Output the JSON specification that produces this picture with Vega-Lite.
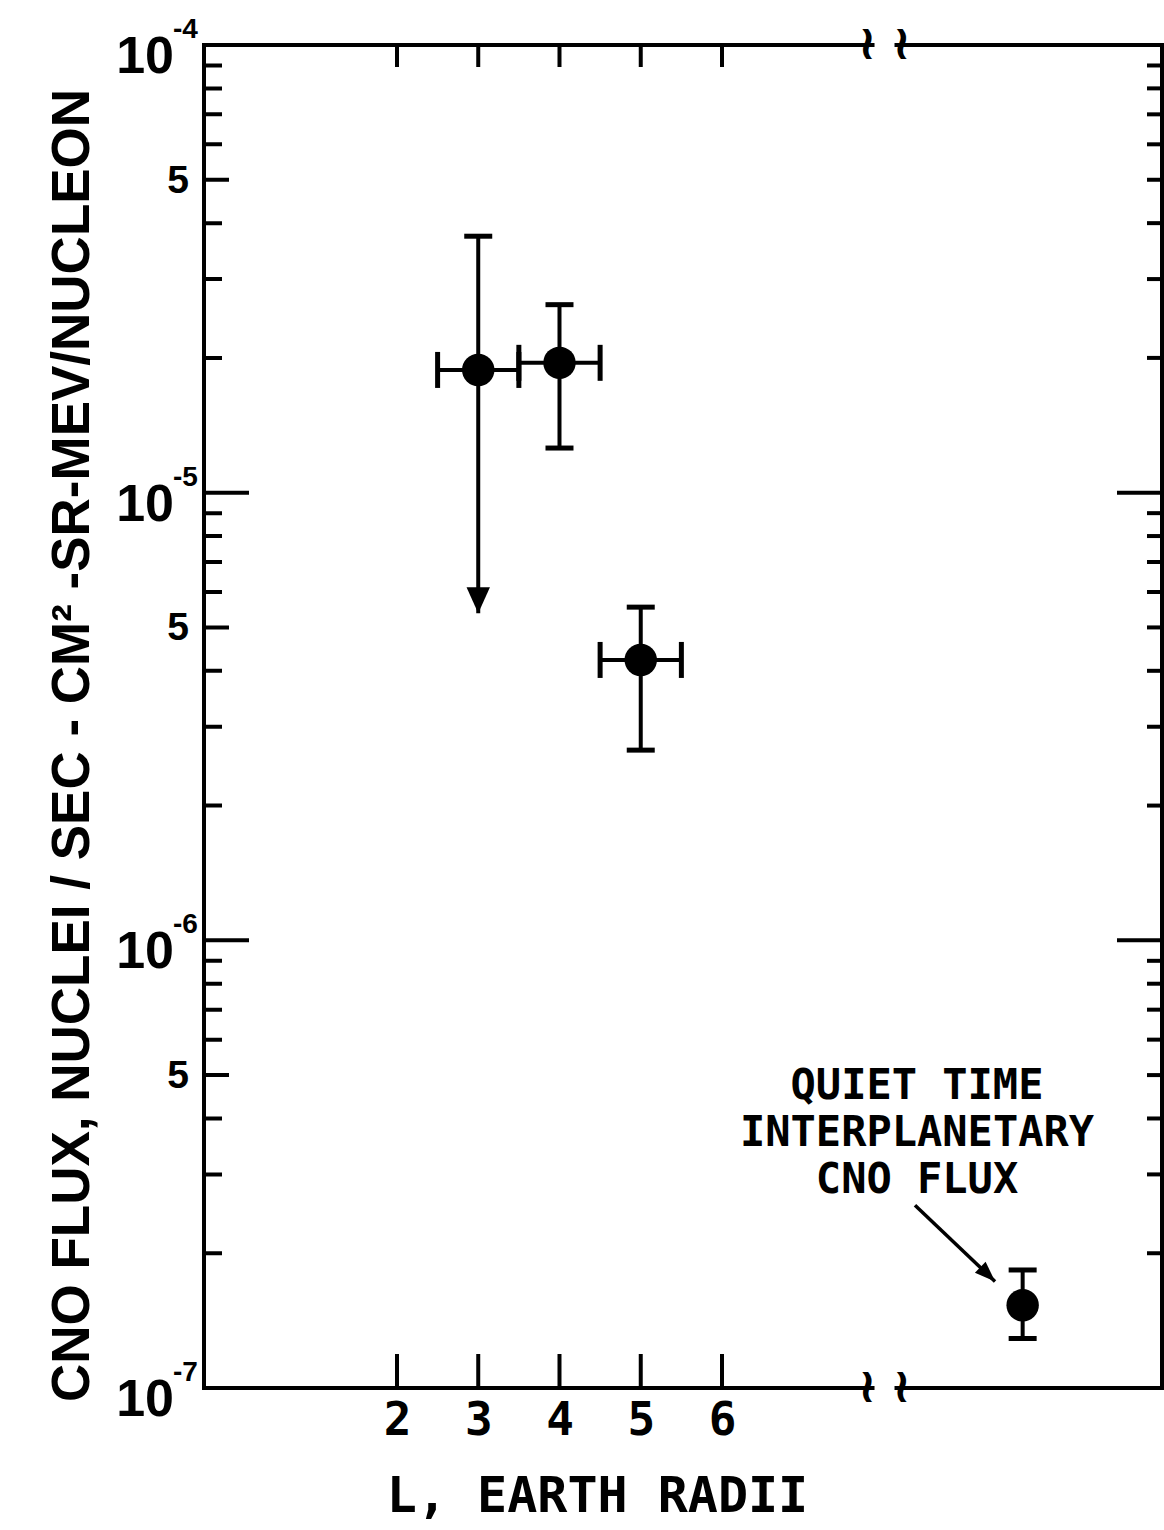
{
  "$schema": "https://vega.github.io/schema/vega-lite/v6.json",
  "width": 958,
  "height": 1343,
  "autosize": {"type": "none"},
  "padding": {"left": 204, "top": 45, "right": 2, "bottom": 142},
  "background": "white",
  "config": {
    "view": {"stroke": "black", "strokeWidth": 4},
    "font": "DejaVu Sans",
    "tick": {"opacity": 1}
  },
  "datasets": {
    "pts": [
      {"L": 3, "flux": 1.88e-5, "hi": 3.74e-5, "lo": 5.38e-6, "xlo": 2.5, "xhi": 3.5, "kind": "upper"},
      {"L": 4, "flux": 1.95e-5, "hi": 2.63e-5, "lo": 1.258e-5, "xlo": 3.5, "xhi": 4.5, "kind": "meas"},
      {"L": 5, "flux": 4.23e-6, "hi": 5.55e-6, "lo": 2.66e-6, "xlo": 4.5, "xhi": 5.5, "kind": "meas"},
      {"L": 9.7, "flux": 1.53e-7, "hi": 1.835e-7, "lo": 1.29e-7, "kind": "interp"}
    ],
    "yt": [
      {"v": 1e-5, "k": "major"}, {"v": 1e-6, "k": "major"},
      {"v": 5e-5, "k": "five"}, {"v": 5e-6, "k": "five"}, {"v": 5e-7, "k": "five"},
      {"v": 2e-5, "k": "minor"}, {"v": 3e-5, "k": "minor"}, {"v": 4e-5, "k": "minor"}, {"v": 6e-5, "k": "minor"}, {"v": 7e-5, "k": "minor"}, {"v": 8e-5, "k": "minor"}, {"v": 9e-5, "k": "minor"},
      {"v": 2e-6, "k": "minor"}, {"v": 3e-6, "k": "minor"}, {"v": 4e-6, "k": "minor"}, {"v": 6e-6, "k": "minor"}, {"v": 7e-6, "k": "minor"}, {"v": 8e-6, "k": "minor"}, {"v": 9e-6, "k": "minor"},
      {"v": 2e-7, "k": "minor"}, {"v": 3e-7, "k": "minor"}, {"v": 4e-7, "k": "minor"}, {"v": 6e-7, "k": "minor"}, {"v": 7e-7, "k": "minor"}, {"v": 8e-7, "k": "minor"}, {"v": 9e-7, "k": "minor"}
    ],
    "ylab": [
      {"v": 1e-4, "base": "10", "exp": "-4"},
      {"v": 1e-5, "base": "10", "exp": "-5"},
      {"v": 1e-6, "base": "10", "exp": "-6"},
      {"v": 1e-7, "base": "10", "exp": "-7"}
    ],
    "xt": [{"v": 2}, {"v": 3}, {"v": 4}, {"v": 5}, {"v": 6}],
    "ann": [{"x1": 8.375, "y1": 2.56e-7, "x2": 9.36, "y2": 1.73e-7, "tx": 8.4, "ty": 4.73e-7, "label": "QUIET TIME\nINTERPLANETARY\nCNO FLUX"}],
    "brk": [{"x": 8.0}]
  },
  "layer": [
    {
      "data": {"name": "pts"},
      "mark": {"type": "rule", "strokeWidth": 4, "color": "black"},
      "encoding": {
        "x": {
          "field": "L", "type": "quantitative",
          "scale": {"domain": [-0.375, 11.415], "nice": false, "zero": false},
          "axis": {
            "values": [2, 3, 4, 5, 6], "format": "d", "ticks": false, "domain": false, "grid": false,
            "labelFont": "DejaVu Sans Mono", "labelFontWeight": "bold", "labelFontSize": 46, "labelPadding": 10, "labelColor": "black",
            "title": "L, EARTH RADII", "titleFont": "DejaVu Sans Mono", "titleFontSize": 50, "titleFontWeight": "bold",
            "titleColor": "black", "titleX": 393, "titleY": 108, "titleAlign": "center", "titleBaseline": "middle"
          }
        },
        "y": {
          "field": "hi", "type": "quantitative",
          "scale": {"type": "log", "domain": [1e-7, 1e-4], "nice": false},
          "axis": {
            "values": [1e-4, 1e-5, 1e-6, 1e-7],
            "labels": false, "ticks": false, "domain": false, "grid": false,
            "title": "CNO FLUX, NUCLEI / SEC - CM² -SR-MEV/NUCLEON",
            "titleFont": "Liberation Sans", "titleFontWeight": "bold",
            "titleFontSize": 53, "titleColor": "black", "titleX": -132, "titleY": 700,
            "titleAlign": "center", "titleBaseline": "middle", "titleAngle": -90
          }
        },
        "y2": {"field": "lo"}
      }
    },
    {
      "data": {"name": "pts"},
      "transform": [{"filter": "isValid(datum.xlo)"}],
      "mark": {"type": "rule", "strokeWidth": 4, "color": "black"},
      "encoding": {
        "x": {"field": "xlo", "type": "quantitative"},
        "x2": {"field": "xhi"},
        "y": {"field": "flux", "type": "quantitative"}
      }
    },
    {
      "data": {"name": "pts"},
      "mark": {"type": "tick", "orient": "horizontal", "size": 28, "thickness": 5, "color": "black"},
      "encoding": {
        "x": {"field": "L", "type": "quantitative"},
        "y": {"field": "hi", "type": "quantitative"}
      }
    },
    {
      "data": {"name": "pts"},
      "transform": [{"filter": "datum.kind != 'upper'"}],
      "mark": {"type": "tick", "orient": "horizontal", "size": 28, "thickness": 5, "color": "black"},
      "encoding": {
        "x": {"field": "L", "type": "quantitative"},
        "y": {"field": "lo", "type": "quantitative"}
      }
    },
    {
      "data": {"name": "pts"},
      "transform": [{"filter": "isValid(datum.xlo)"}],
      "mark": {"type": "tick", "orient": "vertical", "size": 36, "thickness": 5, "color": "black"},
      "encoding": {
        "x": {"field": "xlo", "type": "quantitative"},
        "y": {"field": "flux", "type": "quantitative"}
      }
    },
    {
      "data": {"name": "pts"},
      "transform": [{"filter": "isValid(datum.xhi)"}],
      "mark": {"type": "tick", "orient": "vertical", "size": 36, "thickness": 5, "color": "black"},
      "encoding": {
        "x": {"field": "xhi", "type": "quantitative"},
        "y": {"field": "flux", "type": "quantitative"}
      }
    },
    {
      "data": {"name": "pts"},
      "mark": {"type": "point", "shape": "circle", "filled": true, "size": 1050, "color": "black", "opacity": 1},
      "encoding": {
        "x": {"field": "L", "type": "quantitative"},
        "y": {"field": "flux", "type": "quantitative"}
      }
    },
    {
      "data": {"name": "pts"},
      "transform": [{"filter": "datum.kind == 'upper'"}],
      "mark": {"type": "point", "shape": "M -0.9 -2 L 0.9 -2 L 0 0 Z", "filled": true, "size": 676, "color": "black", "opacity": 1},
      "encoding": {
        "x": {"field": "L", "type": "quantitative"},
        "y": {"field": "lo", "type": "quantitative"}
      }
    },
    {
      "data": {"name": "ann"},
      "mark": {"type": "rule", "strokeWidth": 3.5, "color": "black"},
      "encoding": {
        "x": {"field": "x1", "type": "quantitative"},
        "x2": {"field": "x2"},
        "y": {"field": "y1", "type": "quantitative"},
        "y2": {"field": "y2"}
      }
    },
    {
      "data": {"name": "ann"},
      "mark": {"type": "point", "shape": "M -0.75 -2 L 0.75 -2 L 0 0 Z", "filled": true, "size": 420, "angle": 314, "color": "black", "opacity": 1},
      "encoding": {
        "x": {"field": "x2", "type": "quantitative"},
        "y": {"field": "y2", "type": "quantitative"}
      }
    },
    {
      "data": {"name": "ann"},
      "mark": {"type": "text", "font": "DejaVu Sans Mono", "fontWeight": "bold", "fontSize": 42, "align": "center", "baseline": "middle", "lineBreak": "\n", "lineHeight": 47, "color": "black"},
      "encoding": {
        "x": {"field": "tx", "type": "quantitative"},
        "y": {"field": "ty", "type": "quantitative"},
        "text": {"field": "label"}
      }
    },
    {
      "data": {"name": "ylab"},
      "mark": {"type": "text", "font": "Liberation Sans", "fontWeight": "bold", "fontSize": 52, "align": "right", "baseline": "middle", "dx": -30, "dy": 12, "color": "black"},
      "encoding": {
        "x": {"datum": -0.375, "type": "quantitative"},
        "y": {"field": "v", "type": "quantitative"},
        "text": {"field": "base"}
      }
    },
    {
      "data": {"name": "ylab"},
      "mark": {"type": "text", "font": "Liberation Sans", "fontWeight": "bold", "fontSize": 28, "align": "left", "baseline": "middle", "dx": -31, "dy": -15, "color": "black"},
      "encoding": {
        "x": {"datum": -0.375, "type": "quantitative"},
        "y": {"field": "v", "type": "quantitative"},
        "text": {"field": "exp"}
      }
    },
    {
      "data": {"name": "yt"},
      "transform": [{"filter": "datum.k == 'five'"}],
      "mark": {"type": "text", "text": "5", "font": "Liberation Sans", "fontWeight": "bold", "fontSize": 39, "align": "right", "baseline": "middle", "dx": -15, "dy": 1, "color": "black"},
      "encoding": {
        "x": {"datum": -0.375, "type": "quantitative"},
        "y": {"field": "v", "type": "quantitative"}
      }
    },
    {
      "data": {"name": "yt"},
      "transform": [{"filter": "datum.k == 'major'"}],
      "mark": {"type": "tick", "orient": "horizontal", "size": 90, "thickness": 4, "color": "black", "clip": true},
      "encoding": {
        "x": {"datum": -0.375, "type": "quantitative"},
        "y": {"field": "v", "type": "quantitative"}
      }
    },
    {
      "data": {"name": "yt"},
      "transform": [{"filter": "datum.k == 'five'"}],
      "mark": {"type": "tick", "orient": "horizontal", "size": 50, "thickness": 4, "color": "black", "clip": true},
      "encoding": {
        "x": {"datum": -0.375, "type": "quantitative"},
        "y": {"field": "v", "type": "quantitative"}
      }
    },
    {
      "data": {"name": "yt"},
      "transform": [{"filter": "datum.k == 'minor'"}],
      "mark": {"type": "tick", "orient": "horizontal", "size": 36, "thickness": 4, "color": "black", "clip": true},
      "encoding": {
        "x": {"datum": -0.375, "type": "quantitative"},
        "y": {"field": "v", "type": "quantitative"}
      }
    },
    {
      "data": {"name": "yt"},
      "transform": [{"filter": "datum.k == 'major'"}],
      "mark": {"type": "tick", "orient": "horizontal", "size": 90, "thickness": 4, "color": "black", "clip": true},
      "encoding": {
        "x": {"datum": 11.415, "type": "quantitative"},
        "y": {"field": "v", "type": "quantitative"}
      }
    },
    {
      "data": {"name": "yt"},
      "transform": [{"filter": "datum.k != 'major'"}],
      "mark": {"type": "tick", "orient": "horizontal", "size": 30, "thickness": 4, "color": "black", "clip": true},
      "encoding": {
        "x": {"datum": 11.415, "type": "quantitative"},
        "y": {"field": "v", "type": "quantitative"}
      }
    },
    {
      "data": {"name": "xt"},
      "mark": {"type": "tick", "orient": "vertical", "size": 44, "thickness": 4, "color": "black", "clip": true},
      "encoding": {
        "x": {"field": "v", "type": "quantitative"},
        "y": {"datum": 1e-4, "type": "quantitative"}
      }
    },
    {
      "data": {"name": "xt"},
      "mark": {"type": "tick", "orient": "vertical", "size": 68, "thickness": 4, "color": "black", "clip": true},
      "encoding": {
        "x": {"field": "v", "type": "quantitative"},
        "y": {"datum": 1e-7, "type": "quantitative"}
      }
    },
    {
      "data": {"name": "brk"},
      "mark": {"type": "tick", "orient": "horizontal", "size": 20, "thickness": 10, "color": "white"},
      "encoding": {
        "x": {"field": "x", "type": "quantitative"},
        "y": {"datum": 1e-4, "type": "quantitative"}
      }
    },
    {
      "data": {"name": "brk"},
      "mark": {"type": "tick", "orient": "horizontal", "size": 20, "thickness": 10, "color": "white"},
      "encoding": {
        "x": {"field": "x", "type": "quantitative"},
        "y": {"datum": 1e-7, "type": "quantitative"}
      }
    },
    {
      "data": {"name": "brk"},
      "mark": {"type": "text", "text": "≀ ≀", "font": "DejaVu Sans", "fontSize": 48, "fontWeight": "bold", "align": "center", "baseline": "middle", "color": "black"},
      "encoding": {
        "x": {"field": "x", "type": "quantitative"},
        "y": {"datum": 1e-4, "type": "quantitative"}
      }
    },
    {
      "data": {"name": "brk"},
      "mark": {"type": "text", "text": "≀ ≀", "font": "DejaVu Sans", "fontSize": 48, "fontWeight": "bold", "align": "center", "baseline": "middle", "color": "black"},
      "encoding": {
        "x": {"field": "x", "type": "quantitative"},
        "y": {"datum": 1e-7, "type": "quantitative"}
      }
    }
  ]
}
